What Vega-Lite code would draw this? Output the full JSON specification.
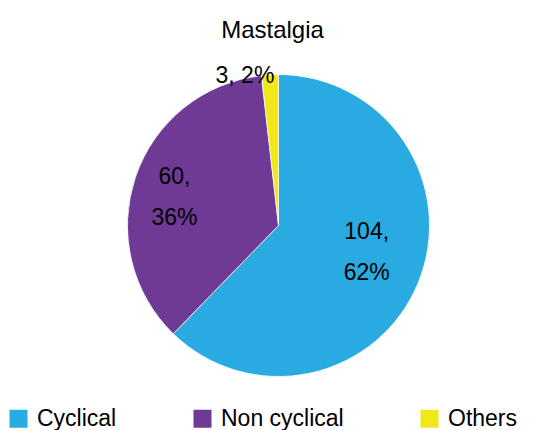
{
  "$schema": "https://vega.github.io/schema/vega-lite/v6.json",
  "width": 545,
  "height": 331,
  "autosize": "none",
  "padding": {"left": 6, "top": 60, "right": 0, "bottom": 39},
  "background": "white",
  "title": {
    "text": "Mastalgia",
    "font": "Liberation Sans",
    "fontSize": 24,
    "fontWeight": "normal",
    "color": "#000000",
    "anchor": "middle",
    "dx": -6,
    "offset": 17
  },
  "data": {
    "values": [
      {"category": "Cyclical", "count": 104, "label": "104,\n62%"},
      {"category": "Non cyclical", "count": 60, "label": "60,\n36%"},
      {"category": "Others", "count": 3, "label": "3, 2%"}
    ]
  },
  "encoding": {
    "theta": {"field": "count", "type": "quantitative", "stack": true},
    "order": {"field": "category", "sort": "ascending"}
  },
  "layer": [
    {
      "mark": {"type": "arc", "radius": 151, "stroke": "white", "strokeWidth": 0.75},
      "encoding": {
        "color": {
          "field": "category",
          "type": "nominal",
          "scale": {
            "domain": ["Cyclical", "Non cyclical", "Others"],
            "range": ["#29ABE2", "#6E3A96", "#F0E81A"]
          },
          "legend": {
            "title": null,
            "orient": "none",
            "direction": "horizontal",
            "legendX": 1,
            "legendY": 347,
            "symbolType": "square",
            "symbolSize": 324,
            "symbolStrokeWidth": 0,
            "labelFont": "Liberation Sans",
            "labelFontSize": 23,
            "labelColor": "#000000",
            "labelOffset": 7,
            "columnPadding": 74,
            "labelLimit": 300
          }
        }
      }
    },
    {
      "mark": {"type": "text", "radius": 93, "font": "Liberation Sans", "fontSize": 23, "lineBreak": "\n", "lineHeight": 41, "dx": 2, "dy": -28, "color": "#000000"},
      "encoding": {
        "text": {"condition": {"test": "datum.category === 'Cyclical'", "field": "label"}, "value": ""}
      }
    },
    {
      "mark": {"type": "text", "radius": 110, "font": "Liberation Sans", "fontSize": 23, "lineBreak": "\n", "lineHeight": 41, "dy": -13, "color": "#000000"},
      "encoding": {
        "text": {"condition": {"test": "datum.category === 'Non cyclical'", "field": "label"}, "value": ""}
      }
    },
    {
      "mark": {"type": "text", "radius": 152, "font": "Liberation Sans", "fontSize": 23, "dx": -25, "dy": 2, "color": "#000000"},
      "encoding": {
        "text": {"condition": {"test": "datum.category === 'Others'", "field": "label"}, "value": ""}
      }
    }
  ]
}
